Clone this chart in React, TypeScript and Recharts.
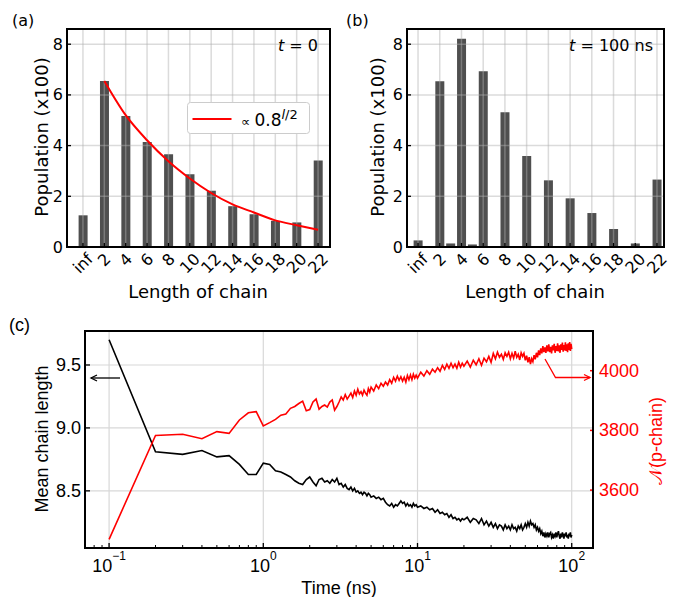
import React from 'react'
import { ComposedChart, LineChart, Bar, Line, XAxis, YAxis, CartesianGrid, ReferenceLine, Legend } from 'recharts'

// chain length categories (inf + 1..22), labels only on inf and even lengths
const lengths = ['inf', '1', '2', '3', '4', '5', '6', '7', '8', '9', '10', '11', '12', '13', '14', '15', '16', '17', '18', '19', '20', '21', '22']
const labelledLengths = ['inf', '2', '4', '6', '8', '10', '12', '14', '16', '18', '20', '22']

// population (x100) at t = 0 and t = 100 ns
const popStart = [1.25, 0, 6.55, 0, 5.17, 0, 4.14, 0, 3.66, 0, 2.87, 0, 2.22, 0, 1.61, 0, 1.29, 0, 1.03, 0, 0.97, 0, 3.41]
const popEnd = [0.26, 0, 6.54, 0.14, 8.22, 0.1, 6.93, 0, 5.32, 0, 3.59, 0, 2.63, 0, 1.92, 0, 1.34, 0, 0.71, 0, 0.14, 0, 2.66]

const fitLengths = ['2', '4', '6', '8', '10', '12', '14', '16', '18', '20', '22']
const fitValues = [6.55, 5.2, 4.21, 3.38, 2.7, 2.13, 1.68, 1.36, 1.05, 0.86, 0.68]

const popTicks = [0, 2, 4, 6, 8]

// time series (ns)
const times = [
  0.1, 0.2, 0.3, 0.4, 0.5, 0.6, 0.7, 0.8, 0.9, 1.0, 1.1, 1.2, 1.3, 1.4, 1.5, 1.6, 1.7, 1.8, 1.9, 2.0,
  2.1, 2.2, 2.3, 2.4, 2.5, 2.6, 2.7, 2.8, 2.9, 3.0,
  3.1, 3.2, 3.3, 3.4, 3.5, 3.6, 3.7, 3.8, 3.9, 4.0, 4.1, 4.2, 4.3, 4.4, 4.5, 4.6, 4.7, 4.8, 4.9, 5.0,
  5.2, 5.4, 5.6, 5.8, 6.0, 6.2, 6.4, 6.6, 6.8, 7.0, 7.2, 7.4, 7.6, 7.8, 8.0, 8.2, 8.4, 8.6, 8.8, 9.0,
  9.2, 9.4, 9.6, 9.8, 10.0,
  10.5, 11, 11.5, 12, 12.5, 13, 13.5, 14, 14.5, 15, 15.5, 16, 16.5, 17, 17.5, 18, 18.5, 19, 19.5, 20,
  21, 22, 23, 24, 25, 26, 27, 28, 29, 30, 31, 32, 33, 34, 35, 36, 37, 38, 39, 40,
  41, 42, 43, 44, 45, 46, 47, 48, 49, 50, 51, 52, 53, 54, 55, 56, 57, 58, 59, 60,
  61, 62, 63, 64, 65, 66, 67, 68, 69, 70, 71, 72, 73, 74, 75, 76, 77, 78, 79, 80,
  81, 82, 83, 84, 85, 86, 87, 88, 89, 90, 91, 92, 93, 94, 95, 96, 97, 98, 99, 100,
]

const meanLength = [
  9.7, 8.81, 8.79, 8.82, 8.77, 8.78, 8.71, 8.63, 8.63, 8.72, 8.71, 8.66, 8.65, 8.63, 8.61, 8.58, 8.56, 8.55, 8.59, 8.61,
  8.57, 8.54, 8.59, 8.6, 8.57, 8.58, 8.56, 8.59, 8.57, 8.6,
  8.55, 8.56, 8.53, 8.55, 8.52, 8.51, 8.53, 8.5, 8.52, 8.49, 8.5, 8.48, 8.49, 8.47, 8.49, 8.48, 8.46, 8.48, 8.47, 8.45,
  8.46, 8.44, 8.45, 8.43, 8.44, 8.41, 8.39, 8.38, 8.4, 8.37, 8.39, 8.38, 8.4, 8.42, 8.4, 8.41, 8.38, 8.4, 8.38, 8.39,
  8.37, 8.4, 8.38, 8.39, 8.37,
  8.38, 8.36, 8.37, 8.35, 8.36, 8.33, 8.35, 8.32, 8.33, 8.31, 8.32, 8.29, 8.31, 8.28, 8.29, 8.27, 8.28, 8.26, 8.28, 8.27,
  8.29, 8.25, 8.28, 8.27, 8.24, 8.28, 8.23, 8.26, 8.22, 8.25, 8.21, 8.24, 8.2, 8.23, 8.22, 8.19, 8.23, 8.2, 8.22, 8.19,
  8.23, 8.2, 8.21, 8.18, 8.22, 8.2, 8.23, 8.19, 8.21, 8.24, 8.21, 8.25, 8.22, 8.26, 8.23, 8.24, 8.21, 8.23, 8.19, 8.21,
  8.18, 8.2, 8.16, 8.18, 8.14, 8.17, 8.13, 8.16, 8.14, 8.17, 8.13, 8.16, 8.17, 8.13, 8.15, 8.12, 8.16, 8.14, 8.17, 8.13,
  8.16, 8.18, 8.14, 8.12, 8.16, 8.13, 8.17, 8.15, 8.12, 8.16, 8.14, 8.17, 8.13, 8.15, 8.12, 8.16, 8.14, 8.17, 8.13, 8.15,
]

const nChain = [
  3435, 3783, 3787, 3772, 3796, 3790, 3835, 3859, 3863, 3815, 3826, 3837, 3851, 3855, 3874, 3880, 3890, 3898, 3866, 3870,
  3895, 3905, 3871, 3880, 3885, 3878, 3895, 3902, 3868, 3880,
  3895, 3912, 3902, 3920, 3905, 3915, 3925, 3910, 3932, 3918, 3938, 3922, 3930, 3918, 3935, 3925, 3918, 3940, 3928, 3945,
  3932, 3952, 3940, 3958, 3948, 3962, 3952, 3970, 3958, 3978, 3965, 3982, 3968, 3980, 3965, 3978, 3962, 3984, 3970, 3986,
  3970, 3988, 3975, 3985, 3975,
  3995, 3982, 4000, 3988, 4005, 3995, 4010, 3998, 4018, 4004, 4022, 4008, 4025, 4010, 4022, 4008, 4028, 4012, 4025, 4015,
  4032, 4012, 4035, 4020, 4040, 4018, 4042, 4030, 4048, 4028, 4058, 4040, 4062, 4045, 4055, 4038, 4060, 4048, 4062, 4040,
  4058, 4042, 4065, 4045, 4055, 4036, 4060, 4048, 4058, 4035, 4050, 4028, 4045, 4022, 4040, 4030, 4052, 4038, 4060, 4045,
  4068, 4052, 4075, 4058, 4082, 4062, 4078, 4060, 4085, 4065, 4088, 4062, 4080, 4058, 4085, 4068, 4090, 4060, 4082, 4066,
  4092, 4065, 4085, 4060, 4088, 4070, 4094, 4064, 4086, 4068, 4095, 4066, 4088, 4062, 4092, 4070, 4096, 4066, 4090, 4072,
]

const majorTimes = [0.1, 1, 10, 100]
const majorTimeExp = ['−1', '0', '1', '2']
const timeTicks = [
  0.08, 0.09, 0.1, 0.2, 0.3, 0.4, 0.5, 0.6, 0.7, 0.8, 0.9, 1, 2, 3, 4, 5, 6, 7, 8, 9, 10,
  20, 30, 40, 50, 60, 70, 80, 90, 100,
]
const meanTicks = [8.5, 9.0, 9.5]
const nTicks = [3600, 3800, 4000]

const TOP_FONT = '"DejaVu Sans", sans-serif'
const BOT_FONT = '"Liberation Sans", Arial, sans-serif'
const GRID = '#b0b0b0'

function BarXTick(props: any) {
  const { x, y, payload } = props
  const v = String(payload.value)
  if (!labelledLengths.includes(v)) return <g />
  const w = v === 'inf' ? 20 : v.length * 10.2
  const cy = y + 5 + (w + 12) * 0.354
  return (
    <g>
      <line x1={x} x2={x} y1={y} y2={y - 4} stroke="#000" strokeWidth={1.3} />
      <text x={x} y={cy} transform={`rotate(-45 ${x} ${cy})`} textAnchor="middle" dominantBaseline="central"
        fontSize={16} fontFamily={TOP_FONT} fill="#000">{v}</text>
    </g>
  )
}

function PopYTick(props: any) {
  const { x, y, payload } = props
  return (
    <g>
      <line x1={x} x2={x + 4} y1={y} y2={y} stroke="#000" strokeWidth={1.3} />
      <text x={x - 4} y={y} textAnchor="end" dominantBaseline="central" fontSize={16} fontFamily={TOP_FONT} fill="#000">
        {payload.value}
      </text>
    </g>
  )
}

function TimeTick(props: any) {
  const { x, y, payload } = props
  const i = majorTimes.indexOf(payload.value)
  if (i < 0) return <line x1={x} x2={x} y1={y} y2={y - 3} stroke="#000" strokeWidth={1} />
  return (
    <g>
      <line x1={x} x2={x} y1={y} y2={y - 5} stroke="#000" strokeWidth={1.3} />
      <text x={x} y={y + 24} textAnchor="middle" fontSize={18} fontFamily={BOT_FONT} fill="#000">
        <tspan>10</tspan>
        <tspan dy={-12} fontSize={12}>{majorTimeExp[i]}</tspan>
      </text>
    </g>
  )
}

function MeanTick(props: any) {
  const { x, y, payload } = props
  return (
    <g>
      <line x1={x} x2={x + 5} y1={y} y2={y} stroke="#000" strokeWidth={1.3} />
      <text x={x - 4} y={y} textAnchor="end" dominantBaseline="central" fontSize={18} fontFamily={BOT_FONT} fill="#000">
        {Number(payload.value).toFixed(1)}
      </text>
    </g>
  )
}

function NTick(props: any) {
  const { x, y, payload } = props
  return (
    <g>
      <line x1={x - 3} x2={x} y1={y} y2={y} stroke="#ff0000" strokeWidth={1.5} />
      <text x={x + 6} y={y} textAnchor="start" dominantBaseline="central" fontSize={18} fontFamily={BOT_FONT} fill="#ff0000">
        {payload.value}
      </text>
    </g>
  )
}

function FitLegend() {
  return (
    <svg width={124} height={33} style={{ display: 'block' }}>
      <rect x={0.5} y={0.5} width={122} height={31} rx={3} fill="#fff" stroke="#cccccc" />
      <line x1={5.5} x2={44.5} y1={17} y2={17} stroke="#ff0000" strokeWidth={2} />
      <text x={54} y={24} fontFamily={TOP_FONT} fill="#000">
        <tspan fontSize={13}>∝ </tspan>
        <tspan fontSize={17}>0.8</tspan>
        <tspan fontSize={13} dy={-7}><tspan fontStyle="italic">l</tspan>/2</tspan>
      </text>
    </svg>
  )
}

function PopulationPanel({ values, withFit, width, right, padLeft, padRight }: any) {
  const rows = lengths.map((c, i) => {
    const k = fitLengths.indexOf(c)
    return { len: c, pop: values[i], fit: withFit && k >= 0 ? fitValues[k] : null }
  })
  return (
    <ComposedChart width={width} height={300} data={rows} margin={{ top: 29, right, bottom: 0, left: 0 }}>
      <XAxis dataKey="len" type="category" interval={0} height={53} padding={{ left: padLeft, right: padRight }}
        tickSize={0} tickMargin={0} axisLine={false} tickLine={false} tick={BarXTick} />
      <YAxis type="number" domain={[0, 8.6]} ticks={popTicks} interval={0} allowDataOverflow width={67}
        tickSize={0} tickMargin={0} axisLine={false} tickLine={false} tick={PopYTick} />
      <Bar dataKey="pop" fill="#4f4f4f" barSize={9} isAnimationActive={false} />
      {labelledLengths.map((c) => (
        <ReferenceLine key={c} x={c} stroke={GRID} strokeOpacity={0.45} strokeWidth={1.5} />
      ))}
      {popTicks.slice(1).map((v) => (
        <ReferenceLine key={v} y={v} stroke={GRID} strokeOpacity={0.45} strokeWidth={1.5} />
      ))}
      {withFit && (
        <Line dataKey="fit" type="monotone" stroke="#ff0000" strokeWidth={2} dot={false} connectNulls
          isAnimationActive={false} />
      )}
      {withFit && (
        <Legend layout="vertical" align="center" verticalAlign="middle" content={FitLegend}
          wrapperStyle={{ position: 'absolute', left: 187, top: 102, width: 124, height: 33 }} />
      )}
    </ComposedChart>
  )
}

export default function App() {
  const timeRows = times.map((t, i) => ({ t, mean: meanLength[i], n: nChain[i] }))
  return (
    <div style={{ position: 'absolute', left: 0, top: 0, width: 681, height: 597, background: '#fff' }}>
      <div style={{ position: 'absolute', left: 0, top: 0 }}>
        <PopulationPanel values={popStart} withFit width={340} right={10} padLeft={10.6} padRight={6.6} />
      </div>
      <div style={{ position: 'absolute', left: 340, top: 0 }}>
        <PopulationPanel values={popEnd} withFit={false} width={341} right={17} padLeft={5.6} padRight={1.6} />
      </div>
      <div style={{ position: 'absolute', left: 0, top: 310 }}>
        <LineChart width={681} height={287} data={timeRows} margin={{ top: 21, right: 0, bottom: 0, left: 0 }}>
          <CartesianGrid yAxisId="left" stroke="#d8d8d8" strokeWidth={1.2} verticalValues={majorTimes} />
          <XAxis dataKey="t" type="number" scale="log" domain={[0.0698, 137.4]} allowDataOverflow ticks={timeTicks}
            interval={0} height={49} tickSize={0} tickMargin={0} axisLine={false} tickLine={false} tick={TimeTick} />
          <YAxis yAxisId="left" type="number" domain={[8.046, 9.77]} ticks={meanTicks} interval={0} allowDataOverflow
            width={85} tickSize={0} tickMargin={0} axisLine={false} tickLine={false} tick={MeanTick} />
          <YAxis yAxisId="right" orientation="right" type="number" domain={[3406, 4133]} ticks={nTicks} interval={0}
            allowDataOverflow width={88} tickSize={0} tickMargin={0} axisLine={false} tickLine={false} tick={NTick} />
          <Line yAxisId="left" dataKey="mean" stroke="#000" strokeWidth={1.6} dot={false} isAnimationActive={false} />
          <Line yAxisId="right" dataKey="n" stroke="#ff0000" strokeWidth={1.6} dot={false} isAnimationActive={false} />
        </LineChart>
      </div>

      <svg width={681} height={597} style={{ position: 'absolute', left: 0, top: 0, pointerEvents: 'none' }}>
        <rect x={67} y={29} width={263} height={218} fill="none" stroke="#000" strokeWidth={2} />
        <rect x={407} y={29} width={257} height={218} fill="none" stroke="#000" strokeWidth={2} />
        <rect x={85} y={331} width={508} height={217} fill="none" stroke="#000" strokeWidth={2} />

        <g fontFamily={TOP_FONT} fill="#000">
          <text x={12} y={26} fontSize={16}>(a)</text>
          <text x={346} y={26} fontSize={16}>(b)</text>
          <text x={318} y={51} fontSize={16} textAnchor="end"><tspan fontStyle="italic">t</tspan> = 0</text>
          <text x={653} y={51} fontSize={16} textAnchor="end"><tspan fontStyle="italic">t</tspan> = 100 ns</text>
          <text x={198} y={298} fontSize={18} textAnchor="middle">Length of chain</text>
          <text x={535} y={298} fontSize={18} textAnchor="middle">Length of chain</text>
          <text x={41} y={137} fontSize={18} textAnchor="middle" dominantBaseline="central" transform="rotate(-90 41 137)">
            Population (x100)
          </text>
          <text x={377} y={137} fontSize={18} textAnchor="middle" dominantBaseline="central" transform="rotate(-90 377 137)">
            Population (x100)
          </text>
        </g>

        <g fontFamily={BOT_FONT} fill="#000">
          <text x={9} y={331} fontSize={18}>(c)</text>
          <text x={339} y={594} fontSize={18} textAnchor="middle">Time (ns)</text>
          <text x={42} y={439} fontSize={18} textAnchor="middle" dominantBaseline="central" transform="rotate(-90 42 439)">
            Mean chain length
          </text>
          <text x={656} y={441} fontSize={18} textAnchor="middle" dominantBaseline="central" fill="#ff0000"
            transform="rotate(-90 656 441)">
            𝒩(p-chain)
          </text>
        </g>

        <g fill="none" strokeWidth={1.3}>
          <polyline points="120,378 91,378" stroke="#000" />
          <polyline points="97,375 91,378 97,381" stroke="#000" />
          <polyline points="545,359 555.5,377.5 590,377.5" stroke="#ff0000" />
          <polyline points="584,374.5 590,377.5 584,380.5" stroke="#ff0000" />
        </g>
      </svg>
    </div>
  )
}
